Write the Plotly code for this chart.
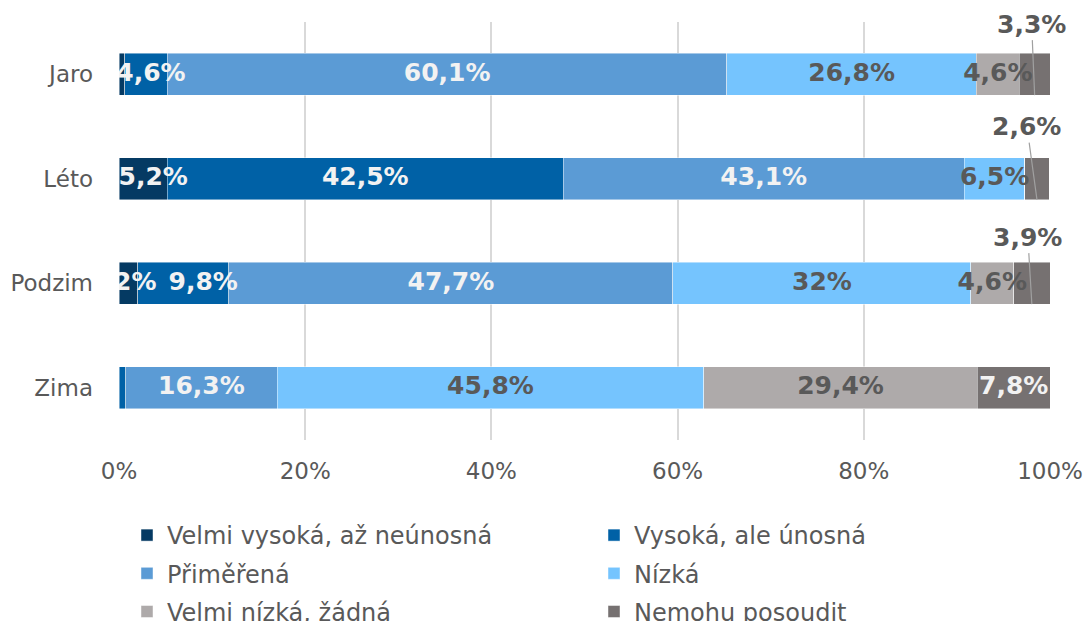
import plotly.graph_objects as go

# ---- data ----
categories = ["Jaro", "Léto", "Podzim", "Zima"]
series_names = [
    "Velmi vysoká, až neúnosná",
    "Vysoká, ale únosná",
    "Přiměřená",
    "Nízká",
    "Velmi nízká, žádná",
    "Nemohu posoudit",
]
velmi_vysoka = [0.6, 5.2, 2.0, 0.0]
vysoka = [4.6, 42.5, 9.8, 0.7]
primerena = [60.1, 43.1, 47.7, 16.3]
nizka = [26.8, 6.5, 32.0, 45.8]
velmi_nizka = [4.6, 0.0, 4.6, 29.4]
nemohu = [3.3, 2.6, 3.9, 7.8]
x_ticks = [0, 20, 40, 60, 80, 100]
x_tick_labels = ["0%", "20%", "40%", "60%", "80%", "100%"]

# ---- styles ----
colors = ["#053a63", "#0061a6", "#5b9bd5", "#75c4fe", "#aeaaaa", "#767171"]
label_colors = ["#f2f2f2", "#f2f2f2", "#f2f2f2", "#595959", "#595959", "#f2f2f2"]
FONT = "DejaVu Sans"
GRAY = "#595959"
BAR_W = 0.4
W, H = 1088, 621
M_L, M_R, M_T, M_B = 119, 38, 22, 181
PLOT_W = W - M_L - M_R
PX_PER_UNIT = PLOT_W / 100.0
# small pixel nudges for labels crowded at the left edge (series idx, category idx)
LABEL_NUDGE_PX = {(1, 0): 5, (0, 1): 10, (0, 2): 7, (1, 2): 20}
# callout text offsets (px) for the small last segment
CALLOUT_OFFSETS = {0: (-3, -71), 1: (-10, -73), 2: (-4, -67)}

all_series = [velmi_vysoka, vysoka, primerena, nizka, velmi_nizka, nemohu]


def fmt(v):
    return f"{v:g}".replace(".", ",") + "%"


fig = go.Figure()

legend_ids = ["legend", "legend2", "legend", "legend2", "legend", "legend2"]
for i, (name, vals, col, lg) in enumerate(zip(series_names, all_series, colors, legend_ids)):
    fig.add_trace(go.Bar(
        y=categories, x=vals, name=name, orientation="h",
        marker=dict(color=col, line=dict(color="rgba(255,255,255,0.6)", width=0.75)),
        width=BAR_W, legend=lg, legendgroup=f"g{i}", hoverinfo="x+name",
    ))

cum = [0.0] * len(categories)
for si, vals in enumerate(all_series):
    xs, ys, ts = [], [], []
    for ci, v in enumerate(vals):
        center = cum[ci] + v / 2
        if v >= 1:
            if si == len(all_series) - 1 and v < 5:
                ax, ay = CALLOUT_OFFSETS.get(ci, (0, -70))
                fig.add_annotation(
                    x=center, y=ci + BAR_W / 2, xref="x", yref="y",
                    text=f"<b>{fmt(v)}</b>", showarrow=True, arrowhead=0,
                    arrowwidth=1.2, arrowcolor="#a0a0a0", ax=ax, ay=ay,
                    font=dict(family=FONT, size=25, color=GRAY),
                )
            else:
                xs.append(center + LABEL_NUDGE_PX.get((si, ci), 0) / PX_PER_UNIT)
                ys.append(categories[ci])
                ts.append(f"<b>{fmt(v)}</b>")
        cum[ci] += v
    if xs:
        fig.add_trace(go.Scatter(
            x=xs, y=ys, text=ts, mode="text", showlegend=False,
            textfont=dict(family=FONT, size=25, color=label_colors[si]),
            textposition="middle center", cliponaxis=True, hoverinfo="skip",
        ))

legend_common = dict(
    orientation="v", xref="paper", yref="container",
    xanchor="left", yanchor="top", y=1 - 513 / H,
    font=dict(family=FONT, size=24, color=GRAY),
    tracegroupgap=4, traceorder="grouped",
    bgcolor="rgba(0,0,0,0)", itemclick=False, itemdoubleclick=False,
)

fig.update_layout(
    width=W, height=H,
    margin=dict(l=M_L, r=M_R, t=M_T, b=M_B, autoexpand=False),
    paper_bgcolor="white", plot_bgcolor="white",
    barmode="stack",
    font=dict(family=FONT, size=23, color=GRAY),
    xaxis=dict(
        range=[0, 100], tickmode="array", tickvals=x_ticks, ticktext=x_tick_labels,
        showgrid=True, gridcolor="#d9d9d9", gridwidth=1.5,
        zeroline=False, showline=False, ticks="", automargin=False,
        tickfont=dict(family=FONT, size=23, color=GRAY),
        ticklabelstandoff=15, fixedrange=True,
    ),
    yaxis=dict(
        categoryorder="array", categoryarray=categories,
        autorange="reversed", showgrid=False, zeroline=False,
        showline=False, ticks="", automargin=False,
        tickfont=dict(family=FONT, size=23, color=GRAY),
        ticklabelstandoff=25, fixedrange=True,
    ),
    legend=dict(legend_common, x=(127 - M_L) / PLOT_W),
    legend2=dict(legend_common, x=(594 - M_L) / PLOT_W),
)

fig.write_html(
    "out.html",
    config={"displayModeBar": False},
    post_script="document.body.style.margin='0';",
)
